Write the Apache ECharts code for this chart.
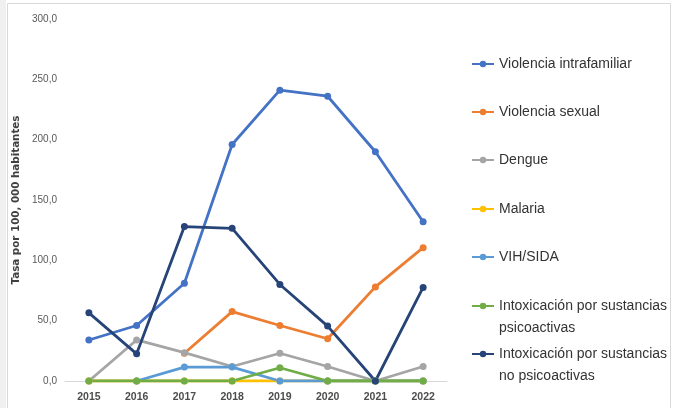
<!DOCTYPE html>
<html><head><meta charset="utf-8">
<script src="https://cdn.jsdelivr.net/npm/echarts@6/dist/echarts.min.js"></script>
<style>html,body{margin:0;padding:0;background:#fff}#c{width:677px;height:408px}</style>
</head><body><div id="c"></div>
<script>
var years = ['2015','2016','2017','2018','2019','2020','2021','2022'];
var yTicks = [0, 50, 100, 150, 200, 250, 300];
var seriesNames = ['Violencia intrafamiliar','Violencia sexual','Dengue','Malaria','VIH/SIDA','Intoxicación por sustancias psicoactivas','Intoxicación por sustancias no psicoactivas'];
var legendLabels = ['Violencia intrafamiliar','Violencia sexual','Dengue','Malaria','VIH/SIDA','Intoxicación por sustancias\npsicoactivas','Intoxicación por sustancias\nno psicoactivas'];
var violenciaIntrafamiliar = [34, 46, 81, 196, 241, 236, 190, 132];
var violenciaSexual = [null, null, 23, 57.5, 46, 35, 78, 110.5];
var dengue = [0, 34, 23.5, 12, 23, 12, 0, 12];
var malaria = [0, 0, 0, 0, 0, 0, 0, 0];
var vihSida = [null, 0, 11.5, 11.5, 0, 0, 0, 0];
var intoxPsico = [0, 0, 0, 0, 11, 0, 0, 0];
var intoxNoPsico = [56.5, 22.5, 128, 126.5, 80, 45.5, 0, 77.5];
var colors = ['#4472C4','#ED7D31','#A5A5A5','#FFC000','#5B9BD5','#70AD47','#264478'];
var allData = [violenciaIntrafamiliar, violenciaSexual, dengue, malaria, vihSida, intoxPsico, intoxNoPsico];

var legendTops = [64, 112, 160, 209, 257, 306, 354];
var font = '"Liberation Sans", Arial, sans-serif';

var legends = seriesNames.map(function (n, i) {
  var multi = legendLabels[i].indexOf('\n') >= 0;
  return {
    show: true,
    orient: 'vertical',
    left: 471,
    top: multi ? legendTops[i] - 33 : legendTops[i] - 11,
    padding: 0,
    itemWidth: 22,
    itemHeight: 8,
    data: [n],
    formatter: function () { return multi ? '\n' + legendLabels[i] : legendLabels[i]; },
    textStyle: {
      fontFamily: font, fontSize: 14, color: '#333333',
      lineHeight: 22
    }
  };
});

var series = seriesNames.map(function (n, i) {
  return {
    name: n,
    type: 'line',
    data: allData[i],
    color: colors[i],
    symbol: 'circle',
    symbolSize: 7,
    lineStyle: { width: 2.8, color: colors[i] },
    itemStyle: { color: colors[i] },
    emphasis: { disabled: true },
    animation: false
  };
});

var chart = echarts.init(document.getElementById('c'), null, { renderer: 'canvas' });
chart.setOption({
  backgroundColor: '#ffffff',
  animation: false,
  graphic: [
    { type: 'rect', shape: { x: 0, y: 0, width: 6, height: 408 }, style: { fill: '#f0f0f0' }, silent: true, z: -10 },
    { type: 'rect', shape: { x: 7.5, y: 3.5, width: 663, height: 420 }, style: { fill: 'none', stroke: '#d9d9d9', lineWidth: 1 }, silent: true, z: -10 }
  ],
  legend: legends,
  grid: { left: 65, right: 230, top: 19, bottom: 27, containLabel: false },
  xAxis: {
    type: 'category',
    data: years,
    boundaryGap: true,
    axisLine: { show: true, lineStyle: { color: '#d9d9d9', width: 1 } },
    axisTick: { show: false },
    axisLabel: { color: '#4d4d4d', fontFamily: font, fontSize: 10.5, fontWeight: 'bold', margin: 11 },
    splitLine: { show: false }
  },
  yAxis: {
    type: 'value',
    min: yTicks[0],
    max: yTicks[yTicks.length - 1],
    interval: 50,
    axisLine: { show: false },
    axisTick: { show: false },
    splitLine: { show: false },
    axisLabel: {
      color: '#595959', fontFamily: font, fontSize: 10, margin: 8,
      formatter: function (v) { return v.toFixed(1).replace('.', ','); }
    },
    name: 'Tasa por 100, 000 habitantes',
    nameLocation: 'middle',
    nameGap: 34,
    nameTextStyle: {
      fontFamily: '"DejaVu Sans", sans-serif', fontWeight: 'bold', fontSize: 10.3, color: '#404040'
    }
  },
  series: series
});
</script>
</body></html>
